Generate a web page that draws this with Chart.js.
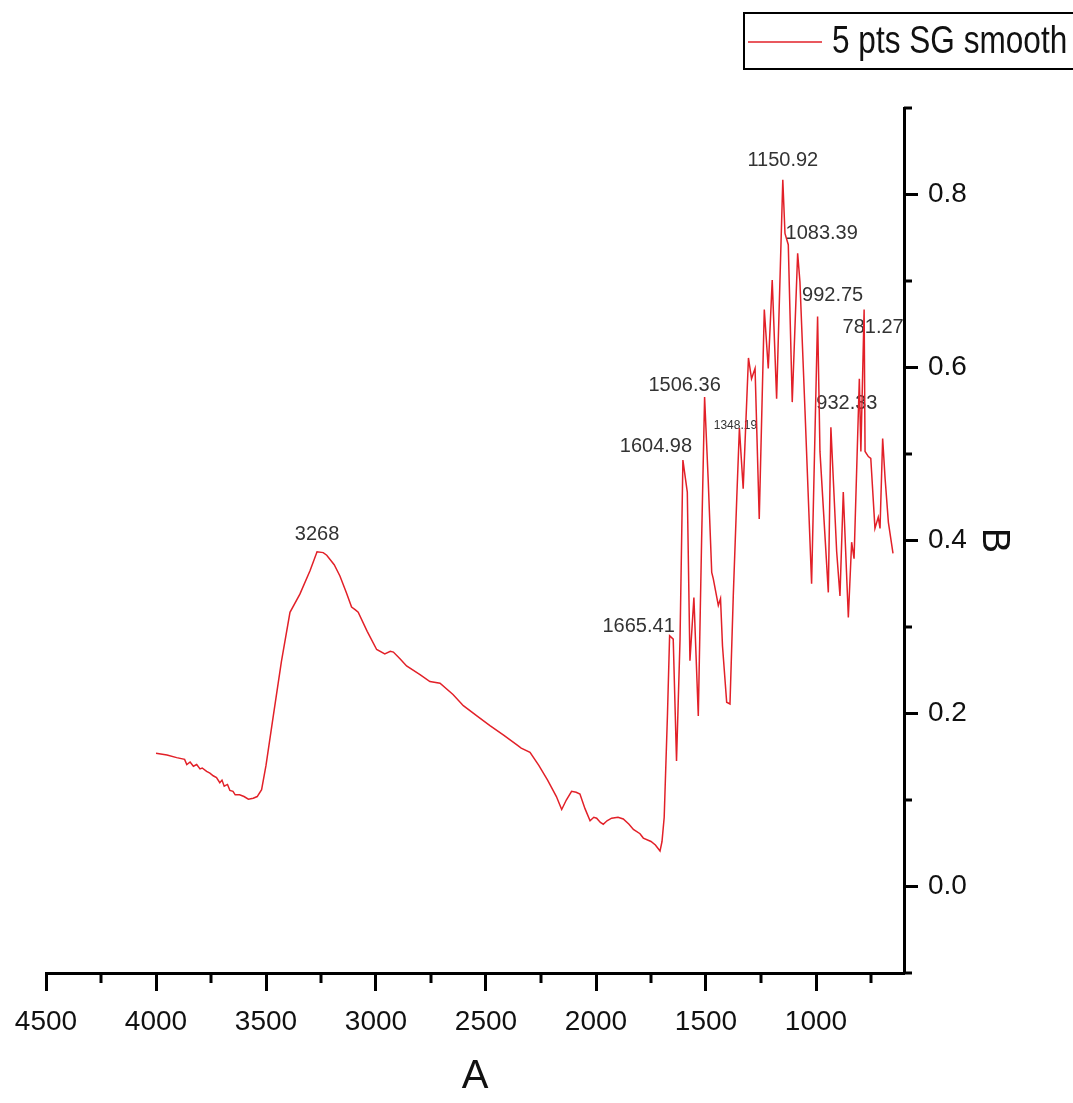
<!DOCTYPE html>
<html>
<head>
<meta charset="utf-8">
<title>FTIR spectrum</title>
<script src="https://cdn.jsdelivr.net/npm/chart.js@4.4.1/dist/chart.umd.min.js"></script>
<style>
  html, body { margin: 0; padding: 0; background: #ffffff; }
  #wrap { width: 1073px; height: 1103px; }
</style>
</head>
<body>
<div id="wrap"><canvas id="spectrum" width="1073" height="1103"></canvas></div>
<script>
// Wavenumber (cm-1) and absorbance of the smoothed spectrum, high to low wavenumber
const WAVENUMBER = [
  4000, 3950, 3906, 3870, 3860, 3845, 3830, 3815, 3800, 3790, 3770, 3755, 3740, 3725,
  3710, 3700, 3690, 3675, 3664, 3650, 3640, 3620, 3600, 3580, 3558, 3540, 3520, 3500,
  3467, 3430, 3391, 3346, 3300, 3268, 3240, 3224, 3190, 3164, 3135, 3111, 3095, 3081,
  3040, 2997, 2960, 2935, 2921, 2890, 2861, 2800, 2755, 2709, 2650, 2603, 2540, 2482,
  2420, 2361, 2340, 2300, 2260, 2220, 2180, 2156, 2135, 2111, 2090, 2073, 2050, 2027,
  2010, 1997, 1980, 1967, 1950, 1929, 1900, 1876, 1850, 1830, 1800, 1785, 1750, 1730,
  1709, 1700, 1690, 1675, 1665.41, 1649, 1634, 1618, 1604.98, 1585, 1573, 1555, 1535,
  1520, 1506.36, 1490, 1474, 1467, 1444, 1434, 1425, 1406, 1391, 1376, 1360, 1348.19,
  1331, 1307, 1293, 1277, 1258, 1235, 1217, 1199, 1179, 1150.92, 1141, 1126, 1108,
  1083.39, 1073, 1050, 1020, 992.75, 982, 944, 932.33, 906, 891, 876, 853, 838, 827,
  803, 796, 781.27, 777, 762, 751, 732, 717, 709, 697, 686, 671, 650
];
const ABSORBANCE = [
  0.154, 0.152, 0.149, 0.147, 0.141, 0.144, 0.139, 0.141, 0.136, 0.137, 0.133, 0.131, 0.128, 0.126,
  0.120, 0.123, 0.116, 0.118, 0.111, 0.110, 0.106, 0.106, 0.104, 0.101, 0.102, 0.104, 0.112, 0.140,
  0.197, 0.260, 0.317, 0.338, 0.365, 0.387, 0.386, 0.383, 0.372, 0.359, 0.340, 0.323, 0.320, 0.317,
  0.295, 0.274, 0.269, 0.272, 0.271, 0.263, 0.255, 0.245, 0.237, 0.235, 0.222, 0.209, 0.197, 0.186,
  0.175, 0.164, 0.160, 0.155, 0.140, 0.123, 0.104, 0.089, 0.100, 0.110, 0.109, 0.107, 0.090, 0.076,
  0.080, 0.079, 0.074, 0.072, 0.076, 0.079, 0.080, 0.078, 0.072, 0.066, 0.061, 0.056, 0.052, 0.048,
  0.041, 0.052, 0.080, 0.200, 0.290, 0.286, 0.145, 0.286, 0.493, 0.456, 0.261, 0.334, 0.197,
  0.400, 0.566, 0.470, 0.363, 0.356, 0.325, 0.333, 0.278, 0.213, 0.211, 0.336, 0.450, 0.530,
  0.460, 0.611, 0.587, 0.599, 0.425, 0.667, 0.599, 0.701, 0.564, 0.817, 0.755, 0.742, 0.560,
  0.732, 0.699, 0.550, 0.350, 0.659, 0.503, 0.340, 0.531, 0.387, 0.336, 0.456, 0.311, 0.398, 0.379,
  0.587, 0.503, 0.667, 0.503, 0.497, 0.495, 0.414, 0.427, 0.414, 0.518, 0.472, 0.421, 0.385
];

const SERIES_LABEL = '5 pts SG smooth';
const X_TITLE = 'A';
const Y_TITLE = 'B';

// Axis tick values
const X_TICKS = [4500, 4000, 3500, 3000, 2500, 2000, 1500, 1000];
const X_MINOR = [4250, 3750, 3250, 2750, 2250, 1750, 1250, 750];
const Y_TICKS = [0.0, 0.2, 0.4, 0.6, 0.8];
const Y_MINOR = [-0.1, 0.1, 0.3, 0.5, 0.7, 0.9];

// Annotated peak positions and their labels
const PEAK_WAVENUMBERS = [3268, 1665.41, 1604.98, 1506.36, 1348.19, 1150.92, 1083.39, 992.75, 932.33, 781.27];
const PEAK_LABELS = ['3268', '1665.41', '1604.98', '1506.36', '1348.19', '1150.92', '1083.39', '992.75', '932.33', '781.27'];

// Label placement relative to each peak: [dx, dy, font size]
const LABEL_STYLE = [
  [0, -17, 20], [-31, -9, 20], [-27, -14, 20], [-20, -11, 20], [-4, -2, 12],
  [0, -19, 20], [24, -20, 20], [15, -21, 20], [16, -24, 20], [9, 18, 20]
];

const FONT = '"Liberation Sans", Arial, Helvetica, sans-serif';
const LINE_COLOR = 'rgb(226, 32, 40)';
const INK = '#111111';

const points = WAVENUMBER.map((w, i) => ({ x: w, y: ABSORBANCE[i] }));

// Short minor ticks on both axes
const minorTicks = {
  id: 'minorTicks',
  afterDraw(chart) {
    const { ctx, scales: { x, y } } = chart;
    ctx.save();
    ctx.strokeStyle = '#000';
    ctx.lineWidth = 3;
    X_MINOR.forEach(v => {
      const px = Math.round(x.getPixelForValue(v));
      ctx.beginPath();
      ctx.moveTo(px, x.top);
      ctx.lineTo(px, x.top + 10);
      ctx.stroke();
    });
    Y_MINOR.forEach(v => {
      const py = Math.round(y.getPixelForValue(v));
      ctx.beginPath();
      ctx.moveTo(y.left, py);
      ctx.lineTo(y.left + 8, py);
      ctx.stroke();
    });
    ctx.restore();
  }
};

// Wavenumber labels over the main absorption peaks
const peakLabels = {
  id: 'peakLabels',
  beforeDatasetsDraw(chart) {
    const { ctx, scales: { x, y } } = chart;
    ctx.save();
    ctx.fillStyle = '#333333';
    ctx.textAlign = 'center';
    ctx.textBaseline = 'middle';
    PEAK_WAVENUMBERS.forEach((wn, i) => {
      const idx = WAVENUMBER.indexOf(wn);
      const px = x.getPixelForValue(wn);
      const py = y.getPixelForValue(ABSORBANCE[idx]);
      const [dx, dy, size] = LABEL_STYLE[i];
      ctx.font = size + 'px ' + FONT;
      ctx.fillText(PEAK_LABELS[i], px + dx, py + dy);
    });
    ctx.restore();
  }
};

// Framed legend in the upper right corner
const legendBox = {
  id: 'legendBox',
  afterDraw(chart) {
    const { ctx } = chart;
    const ds = chart.data.datasets[0];
    ctx.save();
    ctx.strokeStyle = '#000';
    ctx.lineWidth = 2;
    ctx.strokeRect(744, 13, 400, 56);
    ctx.strokeStyle = ds.borderColor;
    ctx.lineWidth = 1.5;
    ctx.beginPath();
    ctx.moveTo(748, 42);
    ctx.lineTo(822, 42);
    ctx.stroke();
    ctx.translate(832, 42);
    ctx.scale(0.81, 1);
    ctx.fillStyle = INK;
    ctx.font = '39px ' + FONT;
    ctx.textAlign = 'left';
    ctx.textBaseline = 'middle';
    ctx.fillText(ds.label, 0, 0);
    ctx.restore();
  }
};

new Chart(document.getElementById('spectrum'), {
  type: 'line',
  data: {
    datasets: [{
      label: SERIES_LABEL,
      data: points,
      borderColor: LINE_COLOR,
      borderWidth: 1.5,
      pointRadius: 0,
      tension: 0,
      fill: false
    }]
  },
  options: {
    responsive: false,
    animation: false,
    devicePixelRatio: 1,
    layout: { padding: { left: 46, top: 108, right: 0, bottom: 0 } },
    plugins: { legend: { display: false }, tooltip: { enabled: false } },
    scales: {
      x: {
        type: 'linear',
        position: 'bottom',
        reverse: true,
        min: 600,
        max: 4500,
        afterBuildTicks: s => { s.ticks = X_TICKS.map(v => ({ value: v })); },
        afterFit: s => { s.height = 130; },
        grid: { drawOnChartArea: false, drawTicks: true, tickLength: 18, tickWidth: 3, tickColor: '#000' },
        border: { display: true, color: '#000', width: 3 },
        ticks: {
          autoSkip: false, maxRotation: 0, minRotation: 0, padding: 14, color: INK,
          font: { family: FONT, size: 28 },
          callback: v => String(v)
        },
        title: { display: true, text: X_TITLE, color: INK, font: { family: FONT, size: 40 }, padding: { top: 0, bottom: 2 } }
      },
      y: {
        type: 'linear',
        position: 'right',
        min: -0.1,
        max: 0.9,
        afterBuildTicks: s => { s.ticks = Y_TICKS.map(v => ({ value: v })); },
        afterFit: s => { s.width = 169; },
        grid: { drawOnChartArea: false, drawTicks: true, tickLength: 14, tickWidth: 3, tickColor: '#000' },
        border: { display: true, color: '#000', width: 3 },
        ticks: {
          padding: 10, color: INK,
          font: { family: FONT, size: 28 },
          callback: v => Number(v).toFixed(1)
        },
        title: { display: true, text: Y_TITLE, color: INK, font: { family: FONT, size: 38 }, padding: { top: 57, bottom: 0 } }
      }
    }
  },
  plugins: [minorTicks, peakLabels, legendBox]
});
</script>
</body>
</html>
